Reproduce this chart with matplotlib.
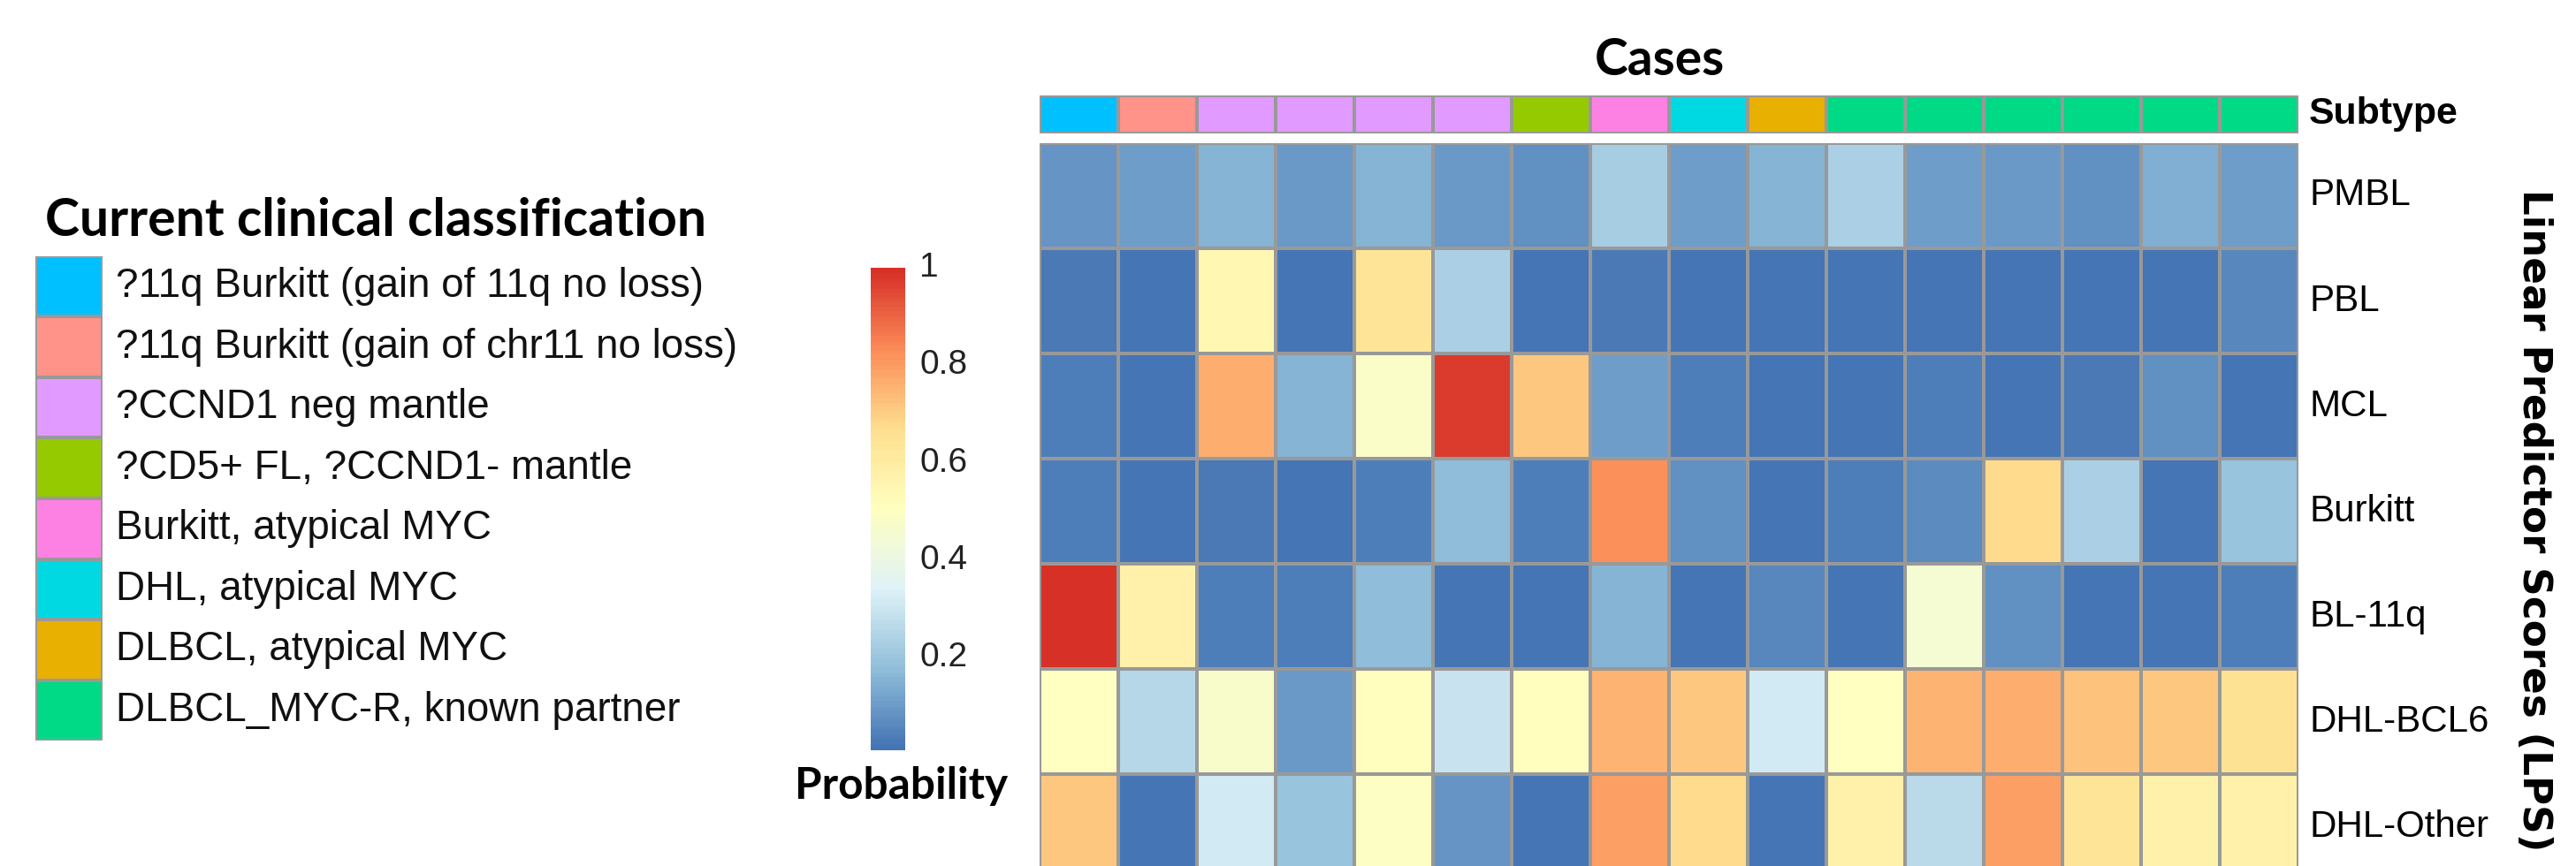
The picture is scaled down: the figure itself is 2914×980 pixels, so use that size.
"""Heatmap of linear predictor scores per case, pheatmap-like layout."""
import numpy as np
import matplotlib

matplotlib.use("Agg")
import matplotlib.pyplot as plt
from matplotlib.colors import LinearSegmentedColormap, ListedColormap

W, H, DPI = 2914, 980, 100
GRID = "#999999"
ARIAL = ["Liberation Sans", "DejaVu Sans"]
CALIBRI = ["Lato", "DejaVu Sans"]

# ── data ────────────────────────────────────────────────────────────────────
subtypes = ["PMBL", "PBL", "MCL", "Burkitt", "BL-11q", "DHL-BCL6", "DHL-Other"]

classes = [
    "?11q Burkitt (gain of 11q no loss)",
    "?11q Burkitt (gain of chr11 no loss)",
    "?CCND1 neg mantle",
    "?CD5+ FL, ?CCND1- mantle",
    "Burkitt, atypical MYC",
    "DHL, atypical MYC",
    "DLBCL, atypical MYC",
    "DLBCL_MYC-R, known partner",
]
class_colors = ["#00C0FF", "#FF9289", "#E19AFF", "#96CA00",
                "#FD81E3", "#00D9E1", "#E8B000", "#00D985"]
case_class = [0, 1, 2, 2, 2, 2, 3, 4, 5, 6, 7, 7, 7, 7, 7, 7]

pmbl = [0.085, 0.10, 0.15, 0.09, 0.15, 0.09, 0.075, 0.22,
        0.10, 0.15, 0.23, 0.10, 0.09, 0.075, 0.14, 0.10]
pbl = [0.02, 0.01, 0.55, 0.01, 0.65, 0.23, 0.01, 0.02,
       0.01, 0.01, 0.01, 0.01, 0.01, 0.01, 0.01, 0.05]
mcl = [0.03, 0.01, 0.77, 0.15, 0.48, 0.98, 0.72, 0.10,
       0.03, 0.01, 0.01, 0.035, 0.01, 0.02, 0.075, 0.015]
burkitt = [0.03, 0.01, 0.02, 0.01, 0.03, 0.17, 0.03, 0.83,
           0.075, 0.01, 0.03, 0.06, 0.68, 0.23, 0.01, 0.19]
bl_11q = [1.0, 0.58, 0.035, 0.03, 0.17, 0.015, 0.015, 0.15,
          0.01, 0.05, 0.015, 0.45, 0.075, 0.015, 0.01, 0.03]
dhl_bcl6 = [0.50, 0.25, 0.47, 0.09, 0.51, 0.29, 0.51, 0.76,
            0.72, 0.31, 0.50, 0.76, 0.77, 0.73, 0.72, 0.66]
dhl_other = [0.72, 0.01, 0.31, 0.19, 0.49, 0.085, 0.01, 0.80,
             0.68, 0.01, 0.58, 0.26, 0.80, 0.65, 0.58, 0.58]

cbar_ticks = [0.2, 0.4, 0.6, 0.8, 1.0]
cbar_labels = ["0.2", "0.4", "0.6", "0.8", "1"]
VMIN, VMAX = 0.01, 1.0

# pheatmap default: colorRampPalette(rev(brewer.pal(7, "RdYlBu")))
cmap = LinearSegmentedColormap.from_list(
    "rdylbu7", ["#4575B4", "#91BFDB", "#E0F3F8", "#FFFFBF",
                "#FEE090", "#FC8D59", "#D73027"], N=100)

fig = plt.figure(figsize=(W / DPI, H / DPI), dpi=DPI)
renderer = fig.canvas.get_renderer()


def px_axes(x0, y0, x1, y1):
    """Axes from pixel box (top-left origin)."""
    ax = fig.add_axes([x0 / W, 1 - y1 / H, (x1 - x0) / W, (y1 - y0) / H])
    ax.set_axis_off()
    return ax


def px_text(x, y, s, **kw):
    return fig.text(x / W, 1 - y / H, s, **kw)


def fit(t, target, vertical=False):
    bb = t.get_window_extent(renderer)
    cur = bb.height if vertical else bb.width
    t.set_fontsize(t.get_fontsize() * target / cur)
    return t.get_fontsize()


# ── heatmap ────────────────────────────────────────────────────────────────
HX0, HX1, HY0, ROW = 1176, 2600, 162, 119
mat = np.array([pmbl, pbl, mcl, burkitt, bl_11q, dhl_bcl6, dhl_other])
n_rows, n_cols = mat.shape

ax = px_axes(HX0, HY0, HX1, HY0 + n_rows * ROW)
ax.pcolormesh(mat, cmap=cmap, vmin=VMIN, vmax=VMAX,
              edgecolors=GRID, linewidth=1.5)
ax.set_xlim(0, n_cols)
ax.set_ylim(n_rows, 0)

# annotation row (Subtype)
ax_ann = px_axes(HX0, 108, HX1, 151)
ax_ann.pcolormesh(np.array([case_class]), cmap=ListedColormap(class_colors),
                  vmin=-0.5, vmax=len(classes) - 0.5,
                  edgecolors=GRID, linewidth=1.5)
ax_ann.set_xlim(0, n_cols)

t = px_text(2612, 129, "Subtype", family=ARIAL, weight="bold",
            va="center", ha="left", fontsize=30)
fit(t, 169)

row_txt = [px_text(2612, HY0 + ROW * (i + 0.5), s, family=ARIAL,
                   va="center", ha="left", fontsize=30)
           for i, s in enumerate(subtypes)]
fs = fit(row_txt[-1], 203)
for t in row_txt:
    t.set_fontsize(fs)

t = px_text(1877, 85, "Cases", family=CALIBRI, weight="bold",
            ha="center", va="baseline", fontsize=36)
fit(t, 147)

t = px_text(2866, 589, "Linear Predictor Scores (LPS)", weight="bold",
            rotation=-90, ha="center", va="center", fontsize=32)
fit(t, 752, vertical=True)

# ── colour legend ──────────────────────────────────────────────────────────
CB_Y0, CB_Y1 = 303, 849
ax_cb = px_axes(985, CB_Y0, 1024, CB_Y1)
grad = np.linspace(VMIN, VMAX, 256)[:, None]
ax_cb.imshow(grad, cmap=cmap, vmin=VMIN, vmax=VMAX, aspect="auto",
             origin="lower", extent=(0, 1, VMIN, VMAX))
ax_cb.set_ylim(VMIN, VMAX)

tick_txt = []
for v, lab in zip(cbar_ticks, cbar_labels):
    y = CB_Y1 - (v - VMIN) / (VMAX - VMIN) * (CB_Y1 - CB_Y0)
    tick_txt.append(px_text(1040, y, lab, family=ARIAL, va="center",
                            ha="left", fontsize=26, color="#222222"))
fs = fit(tick_txt[3], 54)
for t in tick_txt:
    t.set_fontsize(fs)

t = px_text(1020, 904, "Probability", family=CALIBRI, weight="bold",
            ha="center", va="baseline", fontsize=33)
fit(t, 241)

# ── clinical classification legend ─────────────────────────────────────────
t = px_text(51, 267, "Current clinical classification", family=CALIBRI,
            weight="bold", ha="left", va="baseline", fontsize=37)
fit(t, 749)

LG_Y0, LG_STEP = 290, 68.5
ax_lg = px_axes(40, LG_Y0, 116, LG_Y0 + LG_STEP * len(classes))
ax_lg.pcolormesh(np.arange(len(classes))[:, None],
                 cmap=ListedColormap(class_colors),
                 vmin=-0.5, vmax=len(classes) - 0.5,
                 edgecolors=GRID, linewidth=1.5)
ax_lg.set_ylim(len(classes), 0)

lg_txt = [px_text(131, LG_Y0 + LG_STEP * (i + 0.5), s, family=ARIAL,
                  va="center", ha="left", fontsize=31, color="#111111")
          for i, s in enumerate(classes)]
fs = fit(lg_txt[1], 701)
for t in lg_txt:
    t.set_fontsize(fs)

fig.savefig("out.png", dpi=DPI)
